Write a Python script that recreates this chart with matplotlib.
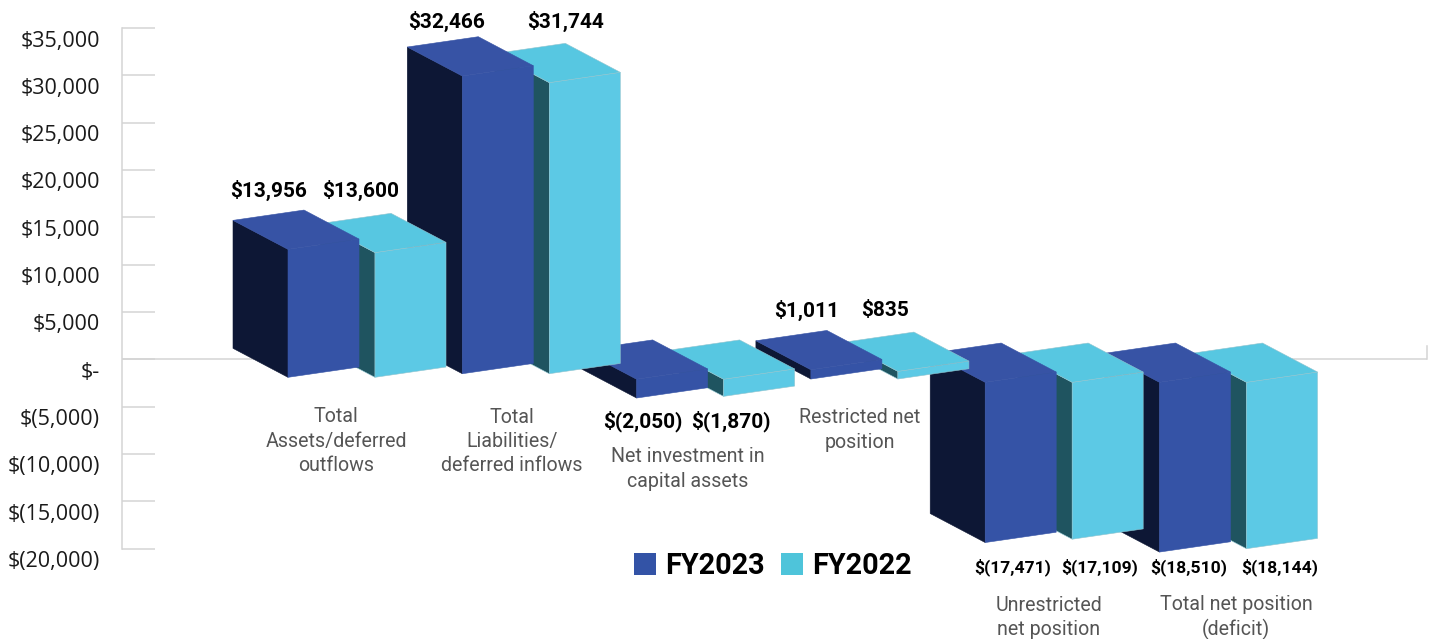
import matplotlib
matplotlib.use("Agg")
import matplotlib.pyplot as plt
from matplotlib.patches import Patch
from matplotlib.transforms import ScaledTranslation

# data, in thousands of dollars
categories = ["Total\nAssets/deferred\noutflows", "Total\nLiabilities/\ndeferred inflows",
              "Net investment in\ncapital assets", "Restricted net\nposition",
              "Unrestricted\nnet position", "Total net position\n(deficit)"]
fy2023 = [13956, 32466, -2050, 1011, -17471, -18510]
fy2022 = [13600, 31744, -1870, 835, -17109, -18144]
labels2023 = ["$13,956", "$32,466", "$(2,050)", "$1,011", "$(17,471)", "$(18,510)"]
labels2022 = ["$13,600", "$31,744", "$(1,870)", "$835", "$(17,109)", "$(18,144)"]
yticks = [35000, 30000, 25000, 20000, 15000, 10000, 5000, 0, -5000, -10000, -15000, -20000]
yticklabels = ["$35,000", "$30,000", "$25,000", "$20,000", "$15,000", "$10,000", "$5,000", "$-",
               "$(5,000)", "$(10,000)", "$(15,000)", "$(20,000)"]

W, H = 1432, 639
DPI = 100
LEFT, RIGHT, TOP, BOTTOM = 121.5, 1427, 28, 548.5  # plot area in pixels
X0, STEP = 288, 174.3  # first bar corner and category spacing in pixels

# the 3d look, all in pixels
px_per_unit = (BOTTOM - TOP) / 55000
bar_scale = 0.00917 / px_per_unit
bar_w, bar_dy = 71 / STEP, 10.3
depth_x, depth_y = 55 / STEP, 29
base_px = [377.6, 374, 379.5, 379.3, 382.6, 382.6]
colors23 = ("#3553A6", "#3753A5", "#0D1735")
colors22 = ("#5CC9E5", "#57C7E1", "#1F5460")

fig = plt.figure(figsize=(W / DPI, H / DPI), dpi=DPI, facecolor="white")
ax = fig.add_axes([LEFT / W, 1 - BOTTOM / H, (RIGHT - LEFT) / W, (BOTTOM - TOP) / H])
ax.set_xlim((LEFT - X0) / STEP, (RIGHT - X0) / STEP)
ax.set_ylim(-20000, 35000)
ax.patch.set_alpha(0)
for name in ["top", "right", "bottom"]:
    ax.spines[name].set_visible(False)
ax.spines["left"].set_color("#d4d4d4")
ax.spines["left"].set_linewidth(1.1)
ax.set_xticks([])
ax.set_yticks(yticks)
ax.set_yticklabels(yticklabels, fontfamily="Open Sans", fontsize=15.5, color="#1a1a1a")
ax.tick_params(axis="y", direction="in", length=32.5 * 72 / DPI, width=1.1, color="#d4d4d4", pad=15.5)
shift = ScaledTranslation(0, -10.5 / DPI, fig.dpi_scale_trans)
for lab in ax.get_yticklabels():
    lab.set_transform(lab.get_transform() + shift)

# zero line with the small end tick
ax.axhline(0, color="#d4d4d4", lw=1.1, zorder=1)
ax.plot([ax.get_xlim()[1]] * 2, [0, 1350], color="#d4d4d4", lw=1.1, zorder=1, clip_on=False)


def draw_bar(x, value, base, colors, edge):
    # base is the front bottom corner for value 0, converted to axis units
    y0 = (359.5 - base) / px_per_unit
    hi = y0 + max(value, 0) * bar_scale
    lo = y0 + min(value, 0) * bar_scale
    dw = bar_dy / px_per_unit
    dx, dy = depth_x, depth_y / px_per_unit
    front = [(x, hi), (x + bar_w, hi + dw), (x + bar_w, lo + dw), (x, lo)]
    side = [(x - dx, hi + dy), (x, hi), (x, lo), (x - dx, lo + dy)]
    top = [(x - dx, hi + dy), (x + bar_w - dx, hi + dw + dy), (x + bar_w, hi + dw), (x, hi)]
    for pts, col in [(side, colors[2]), (front, colors[0]), (top, colors[1])]:
        ax.fill(*zip(*pts), facecolor=col, edgecolor=edge or col, lw=0.4, zorder=3, clip_on=False)


# back to front: later categories sit behind earlier ones
for i in range(len(categories) - 1, -1, -1):
    draw_bar(i + 87 / STEP, fy2022[i], base_px[i], colors22, "#8fc4cf")
    draw_bar(i, fy2023[i], base_px[i], colors23, None)


def put_text(px, py, s, **kw):
    fig.text(px / W, 1 - py / H, s, ha="center", va="center", **kw)


# value labels sit by hand in the original
pos23 = [(268.5, 190), (447, 21), (643, 421), (807, 310), (1013, 567), (1189, 567)]
pos22 = [(361, 190), (566, 21), (731, 421), (885, 310), (1100, 567), (1280, 567)]
for i in range(len(categories)):
    size = 12.6 if i >= 4 else 15
    put_text(*pos23[i], labels2023[i], fontfamily="Roboto", fontweight="bold", fontsize=size, color="black")
    put_text(*pos22[i], labels2022[i], fontfamily="Roboto", fontweight="bold", fontsize=size, color="black")

cat_pos = [(336, 441), (512, 441.5), (688, 469), (860, 430), (1049, 617.5), (1236, 617.5)]
for (px, py), name in zip(cat_pos, categories):
    put_text(px, py, name, fontfamily="Roboto", fontsize=14.1, color="#555555", linespacing=1.36)

handles = [Patch(facecolor="#3353A6", label="FY2023"), Patch(facecolor="#4EC4DA", label="FY2022")]
fig.legend(handles=handles, loc="center left", bbox_to_anchor=(634 / W, 1 - 566 / H), ncol=2, frameon=False,
           prop={"family": "Roboto", "weight": "bold", "size": 20.8}, handlelength=0.76, handleheight=0.76,
           handletextpad=0.32, columnspacing=0.55, borderpad=0, borderaxespad=0)

fig.savefig("out.png", dpi=DPI)
